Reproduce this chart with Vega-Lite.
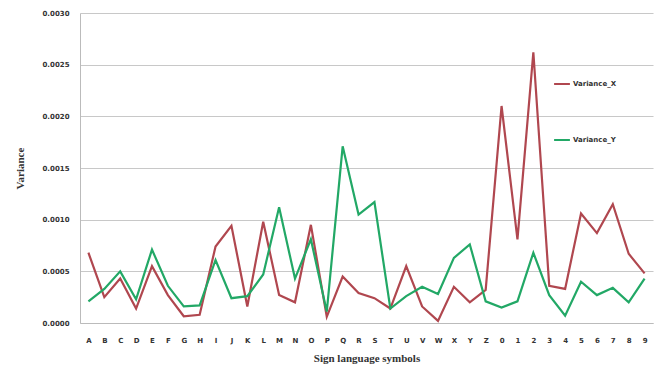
{
  "$schema": "https://vega.github.io/schema/vega-lite/v6.json",
  "autosize": {"type": "none"},
  "padding": {"left": 80, "top": 13, "right": 6, "bottom": 45},
  "width": 573,
  "height": 310,
  "background": "white",
  "data": {"values": [
    {"s":"A","series":"Variance_X","v":0.00068},{"s":"A","series":"Variance_Y","v":0.00021},
    {"s":"B","series":"Variance_X","v":0.00025},{"s":"B","series":"Variance_Y","v":0.00033},
    {"s":"C","series":"Variance_X","v":0.00043},{"s":"C","series":"Variance_Y","v":0.0005},
    {"s":"D","series":"Variance_X","v":0.00014},{"s":"D","series":"Variance_Y","v":0.00023},
    {"s":"E","series":"Variance_X","v":0.00055},{"s":"E","series":"Variance_Y","v":0.00071},
    {"s":"F","series":"Variance_X","v":0.00027},{"s":"F","series":"Variance_Y","v":0.00036},
    {"s":"G","series":"Variance_X","v":0.000065},{"s":"G","series":"Variance_Y","v":0.00016},
    {"s":"H","series":"Variance_X","v":0.00008},{"s":"H","series":"Variance_Y","v":0.00017},
    {"s":"I","series":"Variance_X","v":0.00074},{"s":"I","series":"Variance_Y","v":0.00061},
    {"s":"J","series":"Variance_X","v":0.00094},{"s":"J","series":"Variance_Y","v":0.00024},
    {"s":"K","series":"Variance_X","v":0.00016},{"s":"K","series":"Variance_Y","v":0.00026},
    {"s":"L","series":"Variance_X","v":0.00098},{"s":"L","series":"Variance_Y","v":0.00047},
    {"s":"M","series":"Variance_X","v":0.00027},{"s":"M","series":"Variance_Y","v":0.00112},
    {"s":"N","series":"Variance_X","v":0.0002},{"s":"N","series":"Variance_Y","v":0.00043},
    {"s":"O","series":"Variance_X","v":0.00095},{"s":"O","series":"Variance_Y","v":0.00081},
    {"s":"P","series":"Variance_X","v":0.00006},{"s":"P","series":"Variance_Y","v":0.00011},
    {"s":"Q","series":"Variance_X","v":0.00045},{"s":"Q","series":"Variance_Y","v":0.00171},
    {"s":"R","series":"Variance_X","v":0.00029},{"s":"R","series":"Variance_Y","v":0.00105},
    {"s":"S","series":"Variance_X","v":0.00024},{"s":"S","series":"Variance_Y","v":0.00117},
    {"s":"T","series":"Variance_X","v":0.00014},{"s":"T","series":"Variance_Y","v":0.00014},
    {"s":"U","series":"Variance_X","v":0.00055},{"s":"U","series":"Variance_Y","v":0.00026},
    {"s":"V","series":"Variance_X","v":0.00016},{"s":"V","series":"Variance_Y","v":0.00035},
    {"s":"W","series":"Variance_X","v":0.00002},{"s":"W","series":"Variance_Y","v":0.00028},
    {"s":"X","series":"Variance_X","v":0.00035},{"s":"X","series":"Variance_Y","v":0.00063},
    {"s":"Y","series":"Variance_X","v":0.0002},{"s":"Y","series":"Variance_Y","v":0.00076},
    {"s":"Z","series":"Variance_X","v":0.00032},{"s":"Z","series":"Variance_Y","v":0.00021},
    {"s":"0","series":"Variance_X","v":0.0021},{"s":"0","series":"Variance_Y","v":0.00015},
    {"s":"1","series":"Variance_X","v":0.00081},{"s":"1","series":"Variance_Y","v":0.00021},
    {"s":"2","series":"Variance_X","v":0.00262},{"s":"2","series":"Variance_Y","v":0.00068},
    {"s":"3","series":"Variance_X","v":0.00036},{"s":"3","series":"Variance_Y","v":0.00027},
    {"s":"4","series":"Variance_X","v":0.00033},{"s":"4","series":"Variance_Y","v":0.00007},
    {"s":"5","series":"Variance_X","v":0.00106},{"s":"5","series":"Variance_Y","v":0.0004},
    {"s":"6","series":"Variance_X","v":0.00087},{"s":"6","series":"Variance_Y","v":0.00027},
    {"s":"7","series":"Variance_X","v":0.00115},{"s":"7","series":"Variance_Y","v":0.00034},
    {"s":"8","series":"Variance_X","v":0.00067},{"s":"8","series":"Variance_Y","v":0.0002},
    {"s":"9","series":"Variance_X","v":0.00048},{"s":"9","series":"Variance_Y","v":0.00043}
  ]},
  "mark": {"type": "line", "strokeWidth": 2.2},
  "encoding": {
    "x": {
      "field": "s", "type": "nominal",
      "sort": ["A","B","C","D","E","F","G","H","I","J","K","L","M","N","O","P","Q","R","S","T","U","V","W","X","Y","Z","0","1","2","3","4","5","6","7","8","9"],
      "scale": {"type": "point", "padding": 0.53},
      "axis": {
        "title": "Sign language symbols",
        "titleFont": "Liberation Serif", "titleFontSize": 11, "titleFontWeight": "bold", "titleColor": "#333",
        "titlePadding": 9,
        "labelAngle": 0, "labelFont": "DejaVu Sans", "labelFontSize": 7, "labelFontWeight": "bold", "labelColor": "#333",
        "labelPadding": 13,
        "ticks": false, "domainColor": "#bbbbbb", "grid": false
      }
    },
    "y": {
      "field": "v", "type": "quantitative",
      "scale": {"domain": [0, 0.003]},
      "axis": {
        "title": "Variance", "values": [0, 0.0005, 0.001, 0.0015, 0.002, 0.0025, 0.003],
        "format": ".4f",
        "titleFont": "Liberation Serif", "titleFontSize": 11, "titleFontWeight": "bold", "titleColor": "#333",
        "titlePadding": 16,
        "labelFont": "DejaVu Sans", "labelFontSize": 7, "labelFontWeight": "bold", "labelColor": "#333",
        "labelPadding": 11,
        "ticks": false, "domainColor": "#bbbbbb", "gridColor": "#c8c8c8", "gridWidth": 1.2
      }
    },
    "color": {
      "field": "series", "type": "nominal",
      "scale": {"domain": ["Variance_X", "Variance_Y"], "range": ["#b0474f", "#22a866"]},
      "legend": {
        "title": null, "orient": "none", "legendX": 473, "legendY": 62,
        "symbolType": "stroke", "symbolStrokeWidth": 2, "symbolSize": 250,
        "labelFont": "DejaVu Sans", "labelFontSize": 7, "labelFontWeight": "bold", "labelColor": "#333",
        "rowPadding": 43, "labelOffset": 2
      }
    }
  },
  "config": {"view": {"stroke": null}}
}
